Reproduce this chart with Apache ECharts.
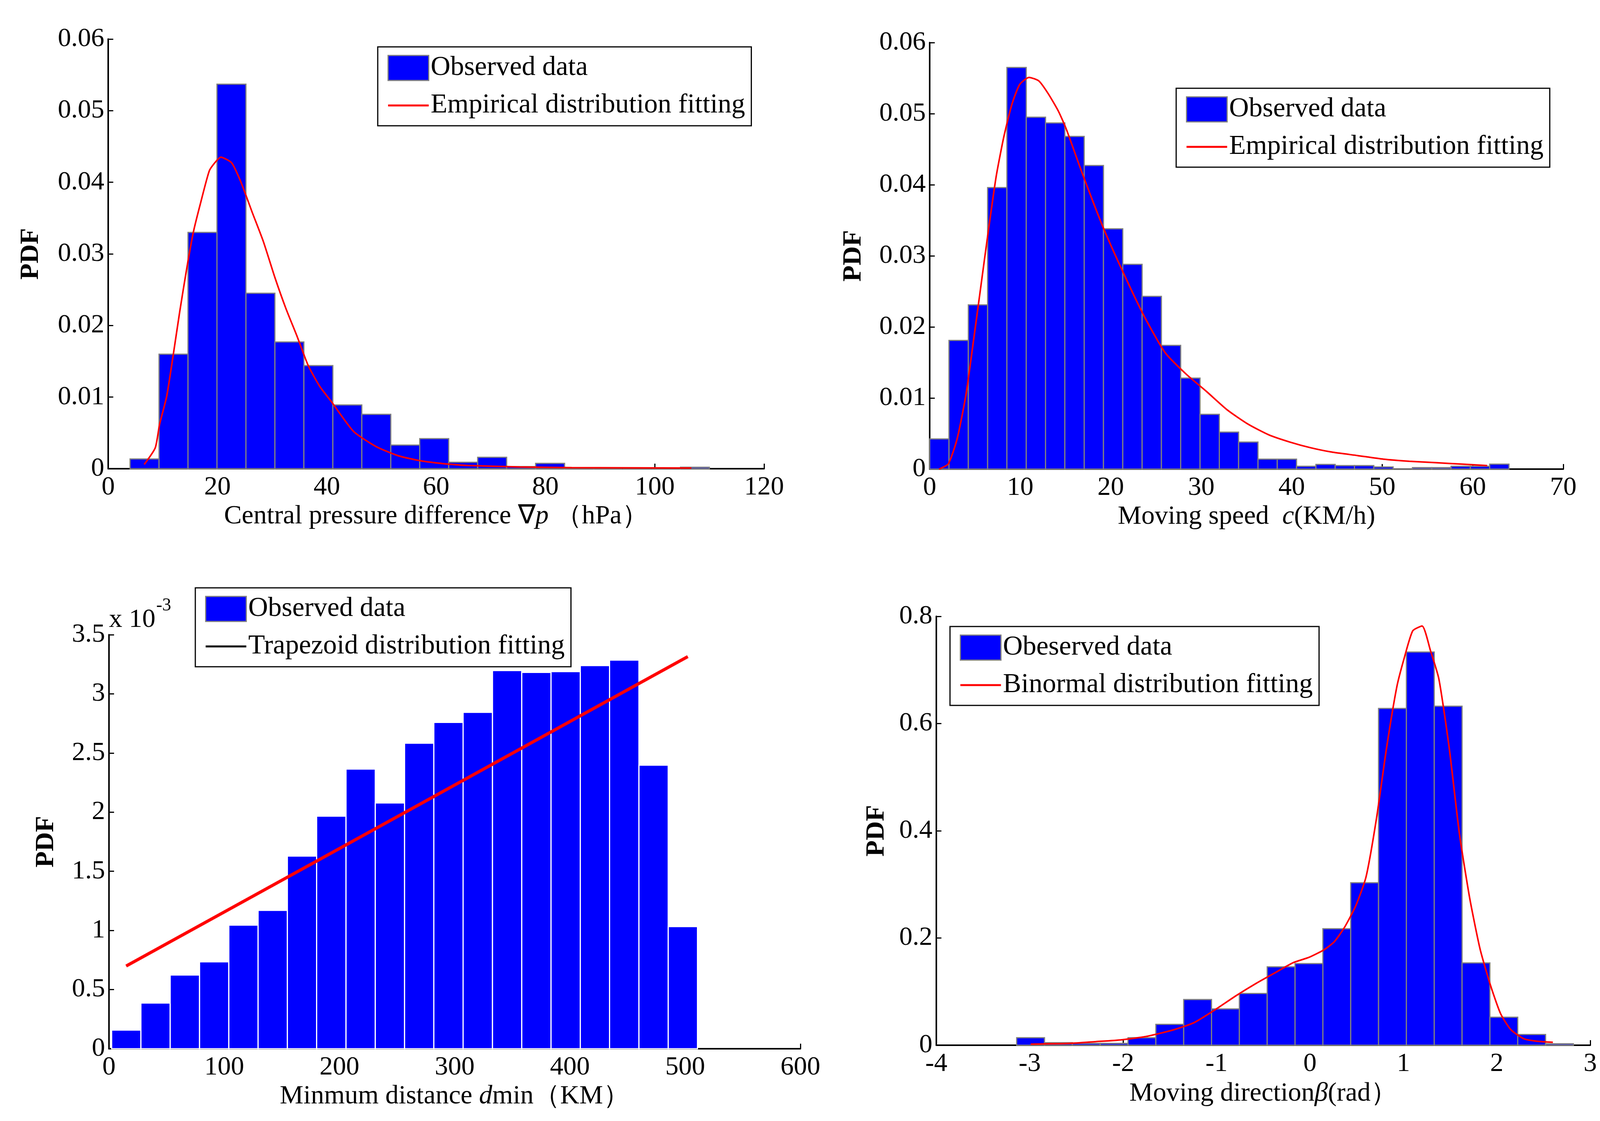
<!DOCTYPE html>
<html lang="en" style="height: 100%">
<head>
<meta charset="utf-8">
<title>Typhoon parameter PDFs</title>
</head>
<body style="height: 100%; margin: 0; background: #fff">
<div id="container" style="height: 100%"></div>
<script type="text/javascript" src="https://cdn.jsdelivr.net/npm/echarts@6/dist/echarts.min.js"></script>
<script type="text/javascript">

// central pressure difference (hPa)
var pressureEdges = [4, 9.3, 14.6, 19.9, 25.2, 30.5, 35.8, 41.1, 46.4, 51.7, 57.0, 62.3, 67.6, 72.9, 78.2, 83.5, 88.8, 94.1, 99.4, 104.7, 110.0];
var pressurePdf = [0.00136, 0.0160, 0.0330, 0.0537, 0.0245, 0.0177, 0.0144, 0.0089, 0.0076, 0.0033, 0.0042, 0.0009, 0.0016, 0.0003, 0.00075, 0.0001, 0, 0, 0, 0.0002];
var pressureFit = [[6.6, 0.0006], [8.6, 0.0029], [9.4, 0.0062], [10.7, 0.0101], [11.9, 0.0159], [13.1, 0.0220], [14.4, 0.0281], [15.6, 0.0331], [16.9, 0.0371], [18.5, 0.0416], [19.7, 0.0429], [20.6, 0.0435], [22.6, 0.0427], [24.3, 0.0400], [26.3, 0.0359], [28.4, 0.0317], [30.5, 0.0267], [32.5, 0.0224], [34.6, 0.0184], [36.6, 0.0144], [38.7, 0.0115], [40.8, 0.0094], [44.9, 0.0052], [49.0, 0.0031], [53.1, 0.0018], [57.2, 0.0011], [61.4, 0.0007], [65.8, 0.00045], [75.3, 0.00025], [84.8, 0.00015], [106.7, 0.0001]];

// moving speed (KM/h)
var speedEdges = [0, 2.13, 4.27, 6.4, 8.53, 10.67, 12.8, 14.93, 17.07, 19.2, 21.33, 23.47, 25.6, 27.73, 29.87, 32, 34.13, 36.27, 38.4, 40.53, 42.67, 44.8, 46.93, 49.07, 51.2, 53.33, 55.47, 57.6, 59.73, 61.87, 64];
var speedPdf = [0.00425, 0.0181, 0.0231, 0.0396, 0.0565, 0.0495, 0.0487, 0.0468, 0.0427, 0.0338, 0.0288, 0.0243, 0.0174, 0.0128, 0.0077, 0.0052, 0.0038, 0.0014, 0.0014, 0.0004, 0.00066, 0.0005, 0.0005, 0.0003, 0, 0.0002, 0.0002, 0.0004, 0.0004, 0.0007];
var speedFit = [[1.03, 0], [2.07, 0.00076], [3.04, 0.0043], [4.0, 0.0104], [4.77, 0.0174], [5.63, 0.0255], [6.49, 0.0336], [7.35, 0.0412], [8.2, 0.0468], [9.08, 0.0513], [9.94, 0.0541], [10.97, 0.0551], [12.06, 0.0546], [13.1, 0.0528], [14.24, 0.0503], [15.1, 0.0478], [16.83, 0.0417], [19.13, 0.0341], [21.4, 0.0276], [23.7, 0.0215], [26.0, 0.0164], [28.3, 0.0134], [30.6, 0.0109], [32.9, 0.0083], [35.2, 0.0063], [37.5, 0.0048], [39.8, 0.0038], [42.1, 0.0030], [44.4, 0.0024], [47.3, 0.0019], [50.1, 0.0014], [53.0, 0.0011], [55.9, 0.0009], [58.8, 0.0007], [61.6, 0.0005]];

// minimum distance (KM), pdf in units of 1e-3
var distanceEdges = [2.3, 27.7, 53.1, 78.6, 104.0, 129.4, 154.8, 180.2, 205.7, 231.1, 256.5, 281.9, 307.3, 332.8, 358.2, 383.6, 409.0, 434.4, 459.9, 485.3, 510.7];
var distancePdf = [0.158, 0.386, 0.623, 0.735, 1.045, 1.170, 1.629, 1.966, 2.364, 2.078, 2.583, 2.759, 2.844, 3.197, 3.181, 3.188, 3.239, 3.285, 2.397, 1.033];
var distanceFit = [[14.9, 0.699], [502.3, 3.315]];

// moving direction (rad)
var directionEdges = [-3.14, -2.842, -2.544, -2.246, -1.948, -1.65, -1.352, -1.054, -0.756, -0.458, -0.16, 0.138, 0.436, 0.734, 1.032, 1.33, 1.628, 1.926, 2.224, 2.522, 2.82];
var directionPdf = [0.0141, 0.0047, 0.0034, 0.0034, 0.0141, 0.0389, 0.0852, 0.0677, 0.0966, 0.1462, 0.1522, 0.2173, 0.3031, 0.6283, 0.7336, 0.6324, 0.1536, 0.0523, 0.0201, 0.0027];
var directionFit = [[-2.99, 0.002], [-2.57, 0.0034], [-2.29, 0.0067], [-2.02, 0.010], [-1.74, 0.0168], [-1.46, 0.0288], [-1.24, 0.0422], [-1.02, 0.0657], [-0.79, 0.0925], [-0.57, 0.116], [-0.35, 0.1375], [-0.18, 0.154], [-0.01, 0.164], [0.15, 0.178], [0.26, 0.193], [0.37, 0.220], [0.49, 0.260], [0.60, 0.314], [0.71, 0.421], [0.82, 0.555], [0.93, 0.669], [1.01, 0.723], [1.10, 0.773], [1.20, 0.782], [1.29, 0.736], [1.38, 0.683], [1.49, 0.555], [1.60, 0.394], [1.71, 0.274], [1.82, 0.180], [1.93, 0.113], [2.04, 0.059], [2.15, 0.029], [2.29, 0.012], [2.43, 0.0074], [2.60, 0.0054]];

var FONT = "'Liberation Serif', serif";
var BLUE = '#0000ff';
var RED = '#ff0000';

var dom = document.getElementById('container');
var myChart = echarts.init(dom);

function histData(edges, vals) {
    var out = [];
    for (var i = 0; i < vals.length; i++) {
        out.push([edges[i], edges[i + 1], vals[i]]);
    }
    return out;
}

function histSeries(name, idx, edges, vals, edge) {
    return {
        name: name,
        type: 'custom',
        xAxisIndex: idx,
        yAxisIndex: idx,
        itemStyle: { color: BLUE },
        encode: { x: [0, 1], y: 2 },
        data: histData(edges, vals),
        renderItem: function (params, api) {
            var p0 = api.coord([api.value(0), api.value(2)]);
            var p1 = api.coord([api.value(1), 0]);
            return {
                type: 'rect',
                shape: { x: p0[0], y: p0[1], width: p1[0] - p0[0], height: p1[1] - p0[1] },
                style: { fill: BLUE, stroke: edge, lineWidth: 3 }
            };
        },
        z: 2
    };
}

function fitSeries(name, idx, data, width, smooth) {
    return {
        name: name,
        type: 'line',
        xAxisIndex: idx,
        yAxisIndex: idx,
        data: data,
        symbol: 'none',
        smooth: smooth,
        lineStyle: { color: RED, width: width },
        itemStyle: { color: RED },
        z: 5
    };
}

function xAxisCfg(idx, min, max, interval, name, gap) {
    return {
        gridIndex: idx,
        type: 'value',
        min: min, max: max, interval: interval,
        name: name,
        nameLocation: 'middle',
        nameGap: gap,
        nameTextStyle: {
            color: '#000', fontFamily: FONT, fontSize: 68,
            rich: { i: { fontStyle: 'italic', fontFamily: FONT, fontSize: 68, color: '#000' } }
        },
        axisLine: { onZero: false, lineStyle: { color: '#000', width: 4 } },
        axisTick: { inside: true, length: 13, lineStyle: { color: '#000', width: 3 } },
        axisLabel: { color: '#000', fontFamily: FONT, fontSize: 68, margin: 14 },
        splitLine: { show: false }
    };
}

function yAxisCfg(idx, max, interval, gap) {
    return {
        gridIndex: idx,
        type: 'value',
        min: 0, max: max, interval: interval,
        name: 'PDF',
        nameLocation: 'middle',
        nameGap: gap,
        nameTextStyle: { color: '#000', fontFamily: FONT, fontSize: 68, fontWeight: 'bold' },
        axisLine: { show: true, onZero: false, lineStyle: { color: '#000', width: 4 } },
        axisTick: { inside: true, length: 13, lineStyle: { color: '#000', width: 3 } },
        axisLabel: { color: '#000', fontFamily: FONT, fontSize: 68, margin: 10 },
        splitLine: { show: false }
    };
}

function legendCfg(left, top, barName, lineName, lineColor) {
    return {
        orient: 'vertical',
        left: left,
        top: top,
        padding: [19, 16, 17, 24],
        itemGap: 26,
        itemWidth: 104,
        itemHeight: 64,
        borderColor: '#000',
        borderWidth: 3,
        backgroundColor: '#fff',
        selectedMode: false,
        textStyle: { color: '#000', fontFamily: FONT, fontSize: 70 },
        data: [
            { name: barName, icon: 'rect', itemStyle: { color: BLUE, borderColor: '#808080', borderWidth: 3 } },
            {
                name: lineName,
                lineStyle: { color: lineColor, width: 5 },
                itemStyle: { color: 'rgba(0,0,0,0)', borderColor: 'rgba(0,0,0,0)', borderWidth: 0 }
            }
        ]
    };
}

var option = {
    backgroundColor: '#fff',
    animation: false,
    grid: [
        { left: 277, top: 100, width: 1679, height: 1100 },
        { left: 2380, top: 109, width: 1622, height: 1092 },
        { left: 279, top: 1625, width: 1770, height: 1060 },
        { left: 2397, top: 1578, width: 1674, height: 1098 }
    ],
    xAxis: [
        xAxisCfg(0, 0, 120, 20, 'Central pressure difference ∇{i|p} （hPa）', 88),
        xAxisCfg(1, 0, 70, 10, 'Moving speed  {i|c}(KM/h)', 88),
        xAxisCfg(2, 0, 600, 100, 'Minmum distance {i|d}min（KM）', 88),
        xAxisCfg(3, -4, 3, 1, 'Moving direction{i|β}(rad）', 90)
    ],
    yAxis: [
        yAxisCfg(0, 0.06, 0.01, 164),
        yAxisCfg(1, 0.06, 0.01, 161),
        yAxisCfg(2, 3.5, 0.5, 127),
        yAxisCfg(3, 0.8, 0.2, 119)
    ],
    legend: [
        legendCfg(967, 120, 'Observed data', 'Empirical distribution fitting', RED),
        legendCfg(3011, 226, 'Observed data', 'Empirical distribution fitting', RED),
        legendCfg(500, 1505, 'Observed data', 'Trapezoid distribution fitting', '#000'),
        legendCfg(2432, 1604, 'Obeserved data', 'Binormal distribution fitting', RED)
    ],
    graphic: [
        { type: 'text', left: 279, top: 1553, style: { text: 'x 10', fill: '#000', font: '68px ' + FONT } },
        { type: 'text', left: 400, top: 1528, style: { text: '-3', fill: '#000', font: '46px ' + FONT } }
    ],
    series: [
        histSeries('Observed data', 0, pressureEdges, pressurePdf, '#808080'),
        fitSeries('Empirical distribution fitting', 0, pressureFit, 4, 0.2),
        histSeries('Observed data', 1, speedEdges, speedPdf, '#808080'),
        fitSeries('Empirical distribution fitting', 1, speedFit, 4, 0.2),
        histSeries('Observed data', 2, distanceEdges, distancePdf, '#ffffff'),
        fitSeries('Trapezoid distribution fitting', 2, distanceFit, 8, false),
        histSeries('Obeserved data', 3, directionEdges, directionPdf, '#808080'),
        fitSeries('Binormal distribution fitting', 3, directionFit, 4, 0.2)
    ]
};

if (option && typeof option === 'object') {
    myChart.setOption(option);
}

window.addEventListener('resize', myChart.resize);
</script>
</body>
</html>
